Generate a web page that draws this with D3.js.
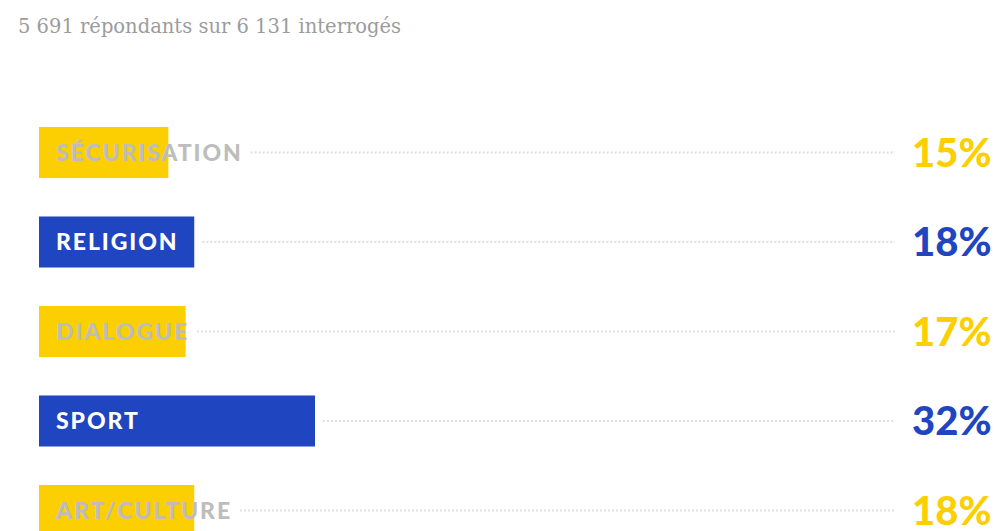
<!DOCTYPE html>
<html><head><meta charset="utf-8">
<script src="https://cdn.jsdelivr.net/npm/d3@7"></script>
<style>body{margin:0;background:#fff;}svg{display:block;}</style>
</head><body>
<svg id="c" width="999" height="531"></svg>
<script>
const categories = ["SÉCURISATION","RELIGION","DIALOGUE","SPORT","ART/CULTURE"];
const values = [15,18,17,32,18];
const valueLabels = ["15%","18%","17%","32%","18%"];
const barColors = ["yellow","blue","yellow","blue","yellow"];
const subtitle = "5 691 répondants sur 6 131 interrogés";

const palette = {yellow:"#fccf03", blue:"#1f45c1"};
const labelColor = {yellow:"#bdbdbd", blue:"#ffffff"};

const svg = d3.select("#c");
svg.append("text").attr("x",18).attr("y",33)
  .attr("font-family","'DejaVu Serif', 'Liberation Serif', serif")
  .attr("font-size",19.5).attr("fill","#9c9c9c").text(subtitle);

const x = d3.scaleLinear().domain([0,32]).range([39,315]);
const y = d3.scaleBand().domain(categories).range([127,536]).paddingInner(0.43).paddingOuter(0);

const g = svg.selectAll("g.row").data(categories).join("g").attr("class","row");

g.append("rect")
  .attr("x",x(0)).attr("y",d=>y(d))
  .attr("width",(d,i)=>x(values[i])-x(0))
  .attr("height",y.bandwidth())
  .attr("fill",(d,i)=>palette[barColors[i]]);

const labels = g.append("text")
  .attr("x",56).attr("y",d=>y(d)+y.bandwidth()/2)
  .attr("dy","0.36em")
  .attr("font-family","Lato, 'Open Sans', sans-serif")
  .attr("font-weight",900).attr("font-size",23)
  .attr("letter-spacing",1.9)
  .attr("fill",(d,i)=>labelColor[barColors[i]])
  .text(d=>d);

labels.each(function(d,i){
  const bb = this.getBBox();
  const start = Math.max(bb.x+bb.width, x(values[i])) + 8;
  const cy = y(d)+y.bandwidth()/2;
  d3.select(this.parentNode).insert("line","text")
    .attr("x1",start).attr("x2",895).attr("y1",cy).attr("y2",cy)
    .attr("stroke","#e0e0e0").attr("stroke-width",2)
    .attr("stroke-dasharray","2,2");
});

g.append("text")
  .attr("x",912).attr("y",d=>y(d)+y.bandwidth()/2)
  .attr("dy","0.36em")
  .attr("font-family","Lato, 'Open Sans', sans-serif")
  .attr("font-weight",900).attr("font-size",40)
  .attr("fill",(d,i)=>palette[barColors[i]])
  .text((d,i)=>valueLabels[i]);
</script>
</body></html>
